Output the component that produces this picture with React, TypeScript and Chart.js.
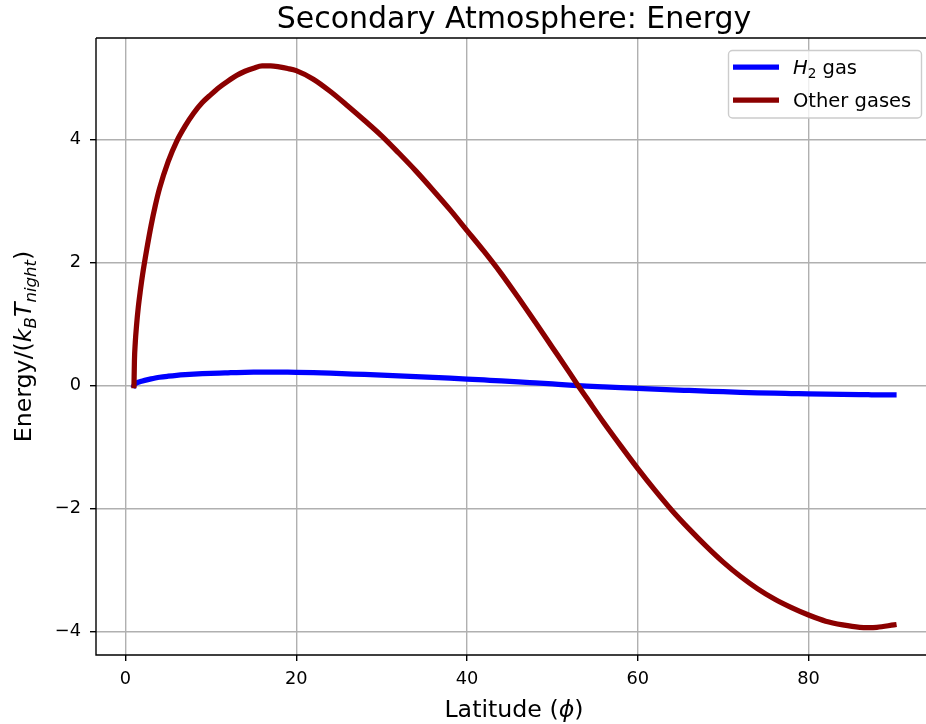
import React, { useEffect, useRef } from 'react';
import { Chart, registerables } from 'chart.js';

Chart.register(...registerables);

// ---- data ----
const latitude = [
  1, 1.05, 1.15, 1.3, 1.5, 1.75, 2, 2.5, 3, 3.5, 4, 5, 6, 7, 8, 9, 10, 11, 12, 13, 14, 15, 16, 17, 18, 19, 20,
  22, 24, 26, 28, 30, 32, 34, 36, 38, 40, 42, 44, 46, 48, 50, 52, 53, 54, 56, 58, 60, 62, 64, 66, 68, 70, 72,
  74, 76, 78, 80, 82, 84, 86, 87, 88, 90,
];
const otherGases = [
  0, 0.4, 0.7, 0.98, 1.27, 1.55, 1.8, 2.22, 2.6, 2.93, 3.21, 3.64, 3.97, 4.22, 4.43, 4.6, 4.73, 4.85, 4.95,
  5.04, 5.11, 5.16, 5.195, 5.195, 5.18, 5.155, 5.12, 4.98, 4.78, 4.55, 4.31, 4.06, 3.78, 3.49, 3.18, 2.86, 2.52,
  2.18, 1.82, 1.43, 1.03, 0.62, 0.21, 0.0, -0.2, -0.6, -0.98, -1.35, -1.7, -2.03, -2.33, -2.61, -2.87, -3.1,
  -3.3, -3.47, -3.61, -3.73, -3.83, -3.89, -3.93, -3.935, -3.93, -3.89,
];
const h2Gas = [
  0, 0.017, 0.03, 0.042, 0.054, 0.065, 0.075, 0.093, 0.109, 0.123, 0.135, 0.152, 0.166, 0.177, 0.186, 0.193,
  0.199, 0.204, 0.208, 0.212, 0.215, 0.217, 0.218, 0.218, 0.218, 0.217, 0.215, 0.209, 0.201, 0.191, 0.181,
  0.17, 0.158, 0.146, 0.133, 0.12, 0.106, 0.091, 0.076, 0.06, 0.043, 0.026, 0.009, 0, -0.008, -0.022, -0.035,
  -0.047, -0.059, -0.07, -0.08, -0.09, -0.1, -0.109, -0.117, -0.124, -0.13, -0.136, -0.141, -0.145, -0.148,
  -0.149, -0.15, -0.15,
];
const xTicks = [0, 20, 40, 60, 80];
const yTicks = [-4, -2, 0, 2, 4];
const xRange = [-3.45, 93.75];
const yRange = [-4.38, 5.65];
const seriesNames = ['H2 gas', 'Other gases'];
const seriesColors = ['#0000ff', '#8b0000'];
const titleText = 'Secondary Atmosphere: Energy';

const FAMILY = '"DejaVu Sans", sans-serif';
const TICK_SIZE = 17.8;
const LEGEND_SIZE = 19.5;
const LABEL_SIZE = 23.7;
const TITLE_SIZE = 30;

type Part = { t: string; size: number; italic?: boolean; dy?: number };

function fontOf(p: Part) {
  return `${p.italic ? 'italic ' : ''}${p.size}px ${FAMILY}`;
}

function richWidth(ctx: CanvasRenderingContext2D, parts: Part[]) {
  let w = 0;
  for (const p of parts) {
    ctx.font = fontOf(p);
    w += ctx.measureText(p.t).width;
  }
  return w;
}

function drawRich(ctx: CanvasRenderingContext2D, parts: Part[], x: number, y: number, align: 'center' | 'left') {
  const total = richWidth(ctx, parts);
  let cx = align === 'center' ? x - total / 2 : x;
  ctx.textAlign = 'left';
  ctx.textBaseline = 'alphabetic';
  for (const p of parts) {
    ctx.font = fontOf(p);
    ctx.fillText(p.t, cx, y + (p.dy || 0));
    cx += ctx.measureText(p.t).width;
  }
}

const decorPlugin = {
  id: 'decor',
  afterDraw(chart: any) {
    const ctx: CanvasRenderingContext2D = chart.ctx;
    const a = chart.chartArea;
    ctx.save();
    // spines (the right one lies just past the picture's edge)
    ctx.strokeStyle = '#000';
    ctx.lineWidth = 1.4;
    ctx.beginPath();
    ctx.moveTo(a.left, a.top);
    ctx.lineTo(a.right + 10, a.top);
    ctx.moveTo(a.left, a.top);
    ctx.lineTo(a.left, a.bottom);
    ctx.lineTo(a.right + 10, a.bottom);
    ctx.stroke();

    ctx.fillStyle = '#000';
    const xs = chart.scales.x;
    const cx = (a.left + xs.getPixelForValue(94.45)) / 2;
    // title
    drawRich(ctx, [{ t: titleText, size: TITLE_SIZE }], cx, 28, 'center');
    // x label
    drawRich(
      ctx,
      [
        { t: 'Latitude (', size: LABEL_SIZE },
        { t: '\u03D5', size: LABEL_SIZE, italic: true },
        { t: ')', size: LABEL_SIZE },
      ],
      cx,
      716.5,
      'center'
    );
    // y label
    const cy = (a.top + a.bottom) / 2;
    ctx.save();
    ctx.translate(31, cy);
    ctx.rotate(-Math.PI / 2);
    drawRich(
      ctx,
      [
        { t: 'Energy/(', size: LABEL_SIZE },
        { t: 'k', size: LABEL_SIZE, italic: true },
        { t: 'B', size: LABEL_SIZE * 0.7, italic: true, dy: 5 },
        { t: 'T', size: LABEL_SIZE, italic: true },
        { t: 'night', size: LABEL_SIZE * 0.7, italic: true, dy: 5 },
        { t: ')', size: LABEL_SIZE },
      ],
      0,
      0,
      'center'
    );
    ctx.restore();

    // legend
    const bx = 728.5, by = 50.5, bw = 193, bh = 67.5;
    ctx.beginPath();
    (ctx as any).roundRect(bx, by, bw, bh, 4);
    ctx.fillStyle = 'rgba(255,255,255,0.8)';
    ctx.fill();
    ctx.strokeStyle = '#cccccc';
    ctx.lineWidth = 1.4;
    ctx.stroke();

    const rows = [67, 100];
    const labels: Part[][] = [
      [
        { t: 'H', size: LEGEND_SIZE, italic: true },
        { t: '2', size: LEGEND_SIZE * 0.7, dy: 4 },
        { t: ' gas', size: LEGEND_SIZE },
      ],
      [{ t: seriesNames[1], size: LEGEND_SIZE }],
    ];
    rows.forEach((ry, i) => {
      ctx.strokeStyle = seriesColors[i];
      ctx.lineWidth = 5.25;
      ctx.lineCap = 'butt';
      ctx.beginPath();
      ctx.moveTo(733, ry);
      ctx.lineTo(779, ry);
      ctx.stroke();
      ctx.fillStyle = '#000';
      drawRich(ctx, labels[i], 793, ry + LEGEND_SIZE * 0.365, 'left');
    });
    ctx.restore();
  },
};

function fmt(v: number) {
  return v < 0 ? '\u2212' + Math.abs(v) : String(v);
}

export default function App() {
  const ref = useRef<HTMLCanvasElement | null>(null);

  useEffect(() => {
    const canvas = ref.current;
    if (!canvas) return;
    const grid = {
      color: '#b0b0b0',
      lineWidth: 1.4,
      tickColor: '#000',
      tickWidth: 1.4,
      tickLength: 6,
      drawTicks: true,
      drawOnChartArea: true,
    };
    const lineStyle = {
      borderWidth: 5.25,
      pointRadius: 0,
      cubicInterpolationMode: 'monotone',
      borderCapStyle: 'square',
      borderJoinStyle: 'round',
      fill: false,
    };
    const chart = new Chart(canvas, {
      type: 'line',
      data: {
        datasets: [
          {
            label: seriesNames[0],
            data: latitude.map((x, i) => ({ x, y: h2Gas[i] })),
            borderColor: seriesColors[0],
            backgroundColor: seriesColors[0],
            order: 1,
            ...lineStyle,
          },
          {
            label: seriesNames[1],
            data: latitude.map((x, i) => ({ x, y: otherGases[i] })),
            borderColor: seriesColors[1],
            backgroundColor: seriesColors[1],
            order: 0,
            ...lineStyle,
          },
        ],
      },
      options: {
        responsive: false,
        animation: false,
        devicePixelRatio: 1,
        layout: { padding: { left: 0, right: 0, top: 38, bottom: 0 } },
        plugins: {
          legend: { display: false },
          title: { display: false },
          tooltip: { enabled: false },
        },
        scales: {
          x: {
            type: 'linear',
            min: xRange[0],
            max: xRange[1],
            afterBuildTicks: (s: any) => {
              s.ticks = xTicks.map((value) => ({ value }));
            },
            afterFit: (s: any) => {
              s.height = 69;
            },
            grid,
            border: { display: false },
            ticks: {
              color: '#000',
              font: { family: FAMILY, size: TICK_SIZE },
              padding: 8,
              maxRotation: 0,
              autoSkip: false,
              callback: (v: any) => fmt(Number(v)),
            },
          },
          y: {
            type: 'linear',
            min: yRange[0],
            max: yRange[1],
            afterBuildTicks: (s: any) => {
              s.ticks = yTicks.map((value) => ({ value }));
            },
            afterFit: (s: any) => {
              s.width = 96;
            },
            grid,
            border: { display: false },
            ticks: {
              color: '#000',
              font: { family: FAMILY, size: TICK_SIZE },
              padding: 9,
              autoSkip: false,
              callback: (v: any) => fmt(Number(v)),
            },
          },
        },
      } as any,
      plugins: [decorPlugin],
    });
    return () => chart.destroy();
  }, []);

  return (
    <div
      style={{
        position: 'fixed',
        left: 0,
        top: 0,
        width: 926,
        height: 724,
        overflow: 'hidden',
        background: '#fff',
      }}
    >
      <canvas ref={ref} width={926} height={724} style={{ display: 'block' }} />
    </div>
  );
}
